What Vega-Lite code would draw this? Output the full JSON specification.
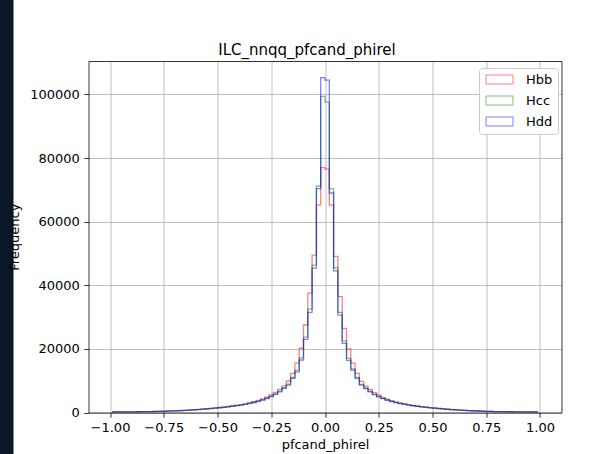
{
  "$schema": "https://vega.github.io/schema/vega-lite/v6.json",
  "width": 473,
  "height": 351.5,
  "autosize": {"type": "none"},
  "padding": {"left": 88.5, "top": 61, "right": 41.5, "bottom": 41.5},
  "background": "#0b1729",
  "config": {
    "font": "DejaVu Sans",
    "view": {"fill": "white", "stroke": "white", "strokeWidth": 150},
    "axis": {
      "labelFont": "DejaVu Sans",
      "labelFontSize": 13,
      "labelColor": "black",
      "titleFont": "DejaVu Sans",
      "titleFontSize": 13,
      "titleFontWeight": "normal",
      "titleColor": "black",
      "domainColor": "black",
      "domainWidth": 0.8,
      "tickColor": "black",
      "tickWidth": 0.8,
      "tickSize": 4.7,
      "labelPadding": 4.5,
      "gridColor": "#b0b0b0",
      "gridWidth": 0.8,
      "gridOpacity": 1
    }
  },
  "title": {
    "text": "ILC_nnqq_pfcand_phirel",
    "font": "DejaVu Sans",
    "fontSize": 15,
    "fontWeight": "normal",
    "color": "black",
    "anchor": "middle",
    "frame": "group",
    "baseline": "alphabetic",
    "offset": 8,
    "dy": 17,
    "dx": -18
  },
  "data": {
    "values": [
      {"x": -0.99, "Hbb": 170, "Hcc": 165, "Hdd": 160},
      {"x": -0.97, "Hbb": 180, "Hcc": 175, "Hdd": 170},
      {"x": -0.95, "Hbb": 190, "Hcc": 185, "Hdd": 180},
      {"x": -0.93, "Hbb": 200, "Hcc": 195, "Hdd": 190},
      {"x": -0.91, "Hbb": 210, "Hcc": 205, "Hdd": 200},
      {"x": -0.89, "Hbb": 225, "Hcc": 220, "Hdd": 215},
      {"x": -0.87, "Hbb": 240, "Hcc": 235, "Hdd": 230},
      {"x": -0.85, "Hbb": 255, "Hcc": 250, "Hdd": 245},
      {"x": -0.83, "Hbb": 270, "Hcc": 265, "Hdd": 260},
      {"x": -0.81, "Hbb": 290, "Hcc": 285, "Hdd": 280},
      {"x": -0.79, "Hbb": 315, "Hcc": 310, "Hdd": 300},
      {"x": -0.77, "Hbb": 345, "Hcc": 340, "Hdd": 330},
      {"x": -0.75, "Hbb": 390, "Hcc": 380, "Hdd": 370},
      {"x": -0.73, "Hbb": 450, "Hcc": 440, "Hdd": 430},
      {"x": -0.71, "Hbb": 505, "Hcc": 495, "Hdd": 480},
      {"x": -0.69, "Hbb": 565, "Hcc": 555, "Hdd": 540},
      {"x": -0.67, "Hbb": 630, "Hcc": 615, "Hdd": 600},
      {"x": -0.65, "Hbb": 695, "Hcc": 680, "Hdd": 660},
      {"x": -0.63, "Hbb": 775, "Hcc": 760, "Hdd": 740},
      {"x": -0.61, "Hbb": 860, "Hcc": 840, "Hdd": 820},
      {"x": -0.59, "Hbb": 955, "Hcc": 930, "Hdd": 910},
      {"x": -0.57, "Hbb": 1060, "Hcc": 1035, "Hdd": 1010},
      {"x": -0.55, "Hbb": 1180, "Hcc": 1150, "Hdd": 1120},
      {"x": -0.53, "Hbb": 1300, "Hcc": 1270, "Hdd": 1240},
      {"x": -0.51, "Hbb": 1430, "Hcc": 1400, "Hdd": 1370},
      {"x": -0.49, "Hbb": 1570, "Hcc": 1540, "Hdd": 1500},
      {"x": -0.47, "Hbb": 1720, "Hcc": 1680, "Hdd": 1640},
      {"x": -0.45, "Hbb": 1880, "Hcc": 1830, "Hdd": 1790},
      {"x": -0.43, "Hbb": 2060, "Hcc": 2010, "Hdd": 1960},
      {"x": -0.41, "Hbb": 2260, "Hcc": 2200, "Hdd": 2150},
      {"x": -0.39, "Hbb": 2480, "Hcc": 2410, "Hdd": 2350},
      {"x": -0.37, "Hbb": 2730, "Hcc": 2650, "Hdd": 2580},
      {"x": -0.35, "Hbb": 3030, "Hcc": 2920, "Hdd": 2850},
      {"x": -0.33, "Hbb": 3380, "Hcc": 3230, "Hdd": 3150},
      {"x": -0.31, "Hbb": 3780, "Hcc": 3590, "Hdd": 3500},
      {"x": -0.29, "Hbb": 4250, "Hcc": 4000, "Hdd": 3900},
      {"x": -0.27, "Hbb": 4800, "Hcc": 4520, "Hdd": 4400},
      {"x": -0.25, "Hbb": 5500, "Hcc": 5150, "Hdd": 5000},
      {"x": -0.23, "Hbb": 6300, "Hcc": 5850, "Hdd": 5700},
      {"x": -0.21, "Hbb": 7300, "Hcc": 6700, "Hdd": 6500},
      {"x": -0.19, "Hbb": 8400, "Hcc": 7800, "Hdd": 7600},
      {"x": -0.17, "Hbb": 9900, "Hcc": 8900, "Hdd": 8600},
      {"x": -0.15, "Hbb": 12300, "Hcc": 11000, "Hdd": 10700},
      {"x": -0.13, "Hbb": 15500, "Hcc": 13300, "Hdd": 12800},
      {"x": -0.11, "Hbb": 20200, "Hcc": 17200, "Hdd": 16500},
      {"x": -0.09, "Hbb": 27500, "Hcc": 23700, "Hdd": 23000},
      {"x": -0.07, "Hbb": 37500, "Hcc": 32500, "Hdd": 31500},
      {"x": -0.05, "Hbb": 49500, "Hcc": 46300, "Hdd": 45400},
      {"x": -0.03, "Hbb": 65200, "Hcc": 71200, "Hdd": 70400},
      {"x": -0.01, "Hbb": 77000, "Hcc": 99400, "Hdd": 105300},
      {"x": 0.01, "Hbb": 76500, "Hcc": 97600, "Hdd": 104500},
      {"x": 0.03, "Hbb": 65200, "Hcc": 70400, "Hdd": 69000},
      {"x": 0.05, "Hbb": 49100, "Hcc": 45500, "Hdd": 44500},
      {"x": 0.07, "Hbb": 36400, "Hcc": 31500, "Hdd": 30600},
      {"x": 0.09, "Hbb": 26400, "Hcc": 22500, "Hdd": 21700},
      {"x": 0.11, "Hbb": 20000, "Hcc": 17000, "Hdd": 16400},
      {"x": 0.13, "Hbb": 15500, "Hcc": 13700, "Hdd": 13300},
      {"x": 0.15, "Hbb": 12300, "Hcc": 11000, "Hdd": 10700},
      {"x": 0.17, "Hbb": 9800, "Hcc": 8850, "Hdd": 8600},
      {"x": 0.19, "Hbb": 8300, "Hcc": 7700, "Hdd": 7500},
      {"x": 0.21, "Hbb": 7200, "Hcc": 6650, "Hdd": 6500},
      {"x": 0.23, "Hbb": 6250, "Hcc": 5750, "Hdd": 5600},
      {"x": 0.25, "Hbb": 5450, "Hcc": 5050, "Hdd": 4900},
      {"x": 0.27, "Hbb": 4750, "Hcc": 4470, "Hdd": 4350},
      {"x": 0.29, "Hbb": 4200, "Hcc": 3950, "Hdd": 3850},
      {"x": 0.31, "Hbb": 3730, "Hcc": 3540, "Hdd": 3450},
      {"x": 0.33, "Hbb": 3340, "Hcc": 3180, "Hdd": 3100},
      {"x": 0.35, "Hbb": 3000, "Hcc": 2870, "Hdd": 2800},
      {"x": 0.37, "Hbb": 2700, "Hcc": 2610, "Hdd": 2550},
      {"x": 0.39, "Hbb": 2450, "Hcc": 2390, "Hdd": 2330},
      {"x": 0.41, "Hbb": 2230, "Hcc": 2170, "Hdd": 2120},
      {"x": 0.43, "Hbb": 2040, "Hcc": 1990, "Hdd": 1940},
      {"x": 0.45, "Hbb": 1860, "Hcc": 1810, "Hdd": 1770},
      {"x": 0.47, "Hbb": 1700, "Hcc": 1660, "Hdd": 1620},
      {"x": 0.49, "Hbb": 1550, "Hcc": 1520, "Hdd": 1480},
      {"x": 0.51, "Hbb": 1410, "Hcc": 1380, "Hdd": 1350},
      {"x": 0.53, "Hbb": 1290, "Hcc": 1260, "Hdd": 1230},
      {"x": 0.55, "Hbb": 1170, "Hcc": 1140, "Hdd": 1110},
      {"x": 0.57, "Hbb": 1050, "Hcc": 1025, "Hdd": 1000},
      {"x": 0.59, "Hbb": 945, "Hcc": 920, "Hdd": 900},
      {"x": 0.61, "Hbb": 850, "Hcc": 830, "Hdd": 810},
      {"x": 0.63, "Hbb": 765, "Hcc": 750, "Hdd": 730},
      {"x": 0.65, "Hbb": 685, "Hcc": 670, "Hdd": 655},
      {"x": 0.67, "Hbb": 620, "Hcc": 605, "Hdd": 590},
      {"x": 0.69, "Hbb": 555, "Hcc": 545, "Hdd": 530},
      {"x": 0.71, "Hbb": 495, "Hcc": 485, "Hdd": 470},
      {"x": 0.73, "Hbb": 440, "Hcc": 430, "Hdd": 420},
      {"x": 0.75, "Hbb": 380, "Hcc": 370, "Hdd": 360},
      {"x": 0.77, "Hbb": 335, "Hcc": 330, "Hdd": 320},
      {"x": 0.79, "Hbb": 305, "Hcc": 300, "Hdd": 295},
      {"x": 0.81, "Hbb": 285, "Hcc": 280, "Hdd": 275},
      {"x": 0.83, "Hbb": 265, "Hcc": 260, "Hdd": 255},
      {"x": 0.85, "Hbb": 250, "Hcc": 245, "Hdd": 240},
      {"x": 0.87, "Hbb": 235, "Hcc": 230, "Hdd": 225},
      {"x": 0.89, "Hbb": 220, "Hcc": 215, "Hdd": 210},
      {"x": 0.91, "Hbb": 210, "Hcc": 205, "Hdd": 200},
      {"x": 0.93, "Hbb": 200, "Hcc": 195, "Hdd": 190},
      {"x": 0.95, "Hbb": 190, "Hcc": 185, "Hdd": 180},
      {"x": 0.97, "Hbb": 180, "Hcc": 175, "Hdd": 170},
      {"x": 0.99, "Hbb": 170, "Hcc": 165, "Hdd": 160}
    ]
  },
  "resolve": {"axis": {"x": "independent", "y": "independent"}},
  "layer": [
    {
      "transform": [{"fold": ["Hbb", "Hcc", "Hdd"], "as": ["series", "count"]}],
      "mark": {"type": "line", "interpolate": "step", "strokeWidth": 1.3, "opacity": 0.5},
      "encoding": {
        "x": {
          "field": "x",
          "type": "quantitative",
          "scale": {"domain": [-1.1, 1.1], "nice": false, "zero": false},
          "axis": {
            "orient": "bottom",
            "values": [-1, -0.75, -0.5, -0.25, 0, 0.25, 0.5, 0.75, 1],
            "format": ".2f",
            "grid": true,
            "title": "pfcand_phirel",
            "titlePadding": 4
          }
        },
        "y": {
          "field": "count",
          "type": "quantitative",
          "scale": {"domain": [0, 110500], "nice": false, "zero": false},
          "axis": {
            "orient": "left",
            "values": [0, 20000, 40000, 60000, 80000, 100000],
            "format": "d",
            "grid": true,
            "title": "Frequency",
            "titlePadding": 8
          }
        },
        "color": {
          "field": "series",
          "type": "nominal",
          "scale": {"domain": ["Hbb", "Hcc", "Hdd"], "range": ["#ff0000", "#008000", "#0000ff"]},
          "legend": {
            "orient": "none",
            "legendX": 390.5,
            "legendY": 7,
            "title": null,
            "fillColor": "white",
            "strokeColor": "#cccccc",
            "cornerRadius": 3,
            "padding": 5,
            "labelFont": "DejaVu Sans",
            "labelFontSize": 13,
            "labelColor": "black",
            "labelOffset": 29,
            "rowPadding": 7,
            "symbolType": "M-1,-1H5V1H-1Z",
            "symbolSize": 81,
            "symbolStrokeWidth": 1,
            "symbolOpacity": 0.5,
            "symbolFillColor": "transparent"
          }
        }
      }
    },
    {
      "mark": {"type": "point", "opacity": 0},
      "encoding": {
        "x": {
          "field": "x",
          "type": "quantitative",
          "scale": {"domain": [-1.1, 1.1], "nice": false, "zero": false},
          "axis": {"orient": "top", "labels": false, "ticks": false, "grid": false, "title": null}
        },
        "y": {
          "field": "Hdd",
          "type": "quantitative",
          "scale": {"domain": [0, 110500], "nice": false, "zero": false},
          "axis": {"orient": "right", "labels": false, "ticks": false, "grid": false, "title": null}
        }
      }
    }
  ]
}
